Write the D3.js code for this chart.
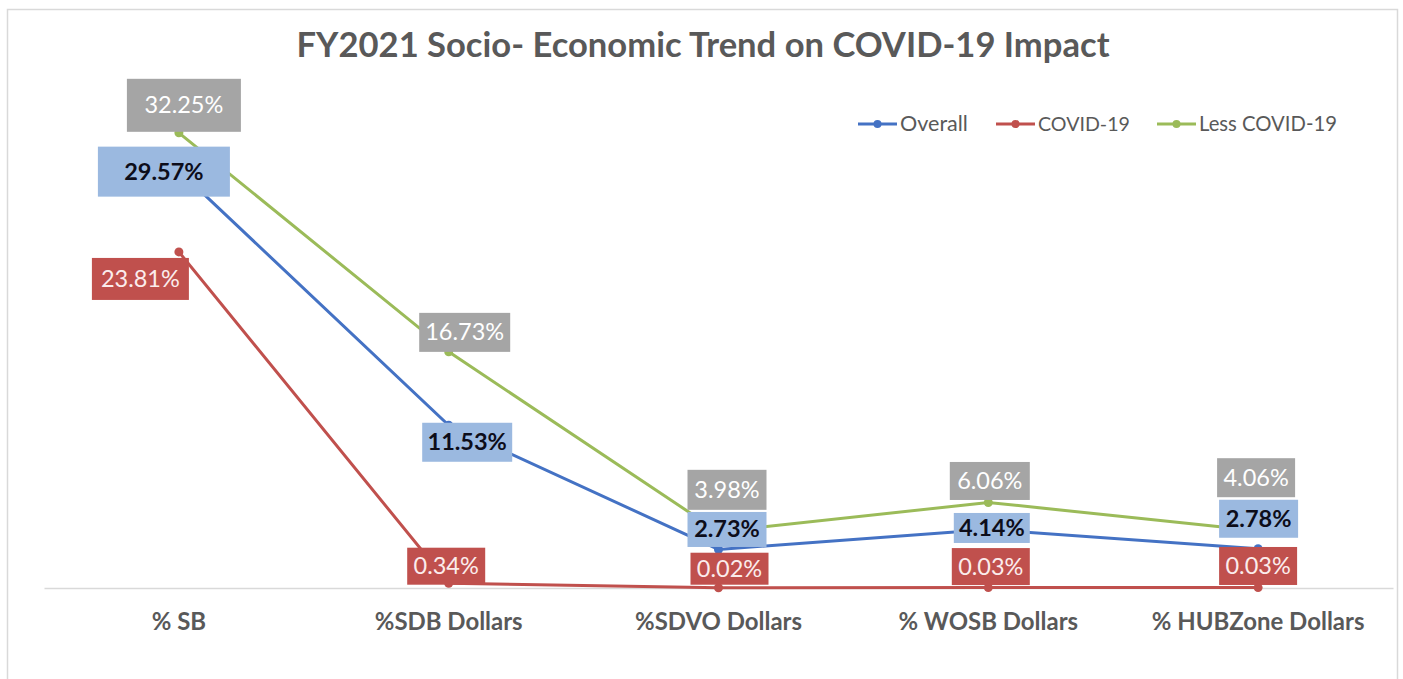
<!DOCTYPE html>
<html>
<head>
<meta charset="utf-8">
<script src="https://cdn.jsdelivr.net/npm/d3@7"></script>
<style>
	body { margin: 0; background: #fff; }
	svg text { font-family: Lato, "Open Sans", sans-serif; }
</style>
</head>
<body>
<div id="chart"></div>
<script>
// FY2021 socio-economic trend chart, drawn with d3

var categories = ["% SB", "%SDB Dollars", "%SDVO Dollars", "% WOSB Dollars", "% HUBZone Dollars"];
var overall = [29.57, 11.53, 2.73, 4.14, 2.78];
var covid = [23.81, 0.34, 0.02, 0.03, 0.03];
var lessCovid = [32.25, 16.73, 3.98, 6.06, 4.06];
var seriesNames = ["Overall", "COVID-19", "Less COVID-19"];

var W = 1403, H = 679;
var colors = { line: ["#4472c4", "#c0504d", "#9bbb59"], box: ["#9bb9e0", "#c0504d", "#a5a5a5"], text: ["#0d0d1a", "#fbecec", "#ffffff"] };

// hand-placed label boxes, like the ones moved around in the original: [dx, dy, w, h] from the point
var labelLayout = [
	[[-15, 1, 132, 50], [18.5, 17, 90, 39], [8.5, -20, 79, 35], [3.5, -1.6, 76, 30], [0.5, -30, 79, 38]],
	[[-38.5, 27, 97, 42], [-2.5, -17, 78, 37], [11, -19, 78, 32], [2.5, -21, 78, 37], [0, -21.6, 78, 38]],
	[[5, -27.5, 114, 53], [16, -19.5, 91, 39], [8.5, -42, 79, 40], [1.5, -21.5, 80, 38], [-2, -53, 78, 39]]
];

var svg = d3.select("#chart").append("svg")
	.attr("width", W)
	.attr("height", H);

svg.append("rect")
	.attr("x", 7.5).attr("y", 9.5)
	.attr("width", 1390).attr("height", 680)
	.attr("fill", "#fff")
	.attr("stroke", "#d9d9d9")
	.attr("stroke-width", 1.5);

var x = d3.scaleBand().domain(categories).range([44, 1393]);
var y = d3.scaleLinear().domain([0, 35]).range([588, 94]);

function fitText(sel, width) {
	// scale the font so the rendered string takes the width seen in the picture
	var size = parseFloat(sel.attr("font-size"));
	var len = sel.node().getComputedTextLength();
	var fitted = size * width / len;
	sel.attr("font-size", fitted.toFixed(2));
	return fitted;
}

var title = svg.append("text")
	.attr("x", 703).attr("y", 57)
	.attr("text-anchor", "middle")
	.attr("font-size", 32)
	.attr("font-weight", "bold")
	.attr("fill", "#595959")
	.text("FY2021 Socio- Economic Trend on COVID-19 Impact");
fitText(title, 813);

// x axis
var axis = svg.append("g")
	.attr("transform", "translate(0," + y(0) + ")")
	.call(d3.axisBottom(x).tickSize(0).tickSizeOuter(0));
axis.select(".domain").attr("stroke", "#d9d9d9").attr("stroke-width", 1.5);
var tickText = axis.selectAll(".tick text")
	.attr("y", 42).attr("dy", 0)
	.attr("font-size", 20)
	.attr("font-weight", "bold")
	.attr("fill", "#595959");
// one size for all tick labels, taken from the widest readable one
var tickSize = fitText(tickText.filter(function(d) { return d === "%SDVO Dollars"; }), 167);
tickText.attr("font-size", tickSize.toFixed(2));

var allSeries = [overall, covid, lessCovid];
var line = d3.line()
	.x(function(d, i) { return x(categories[i]) + x.bandwidth() / 2; })
	.y(function(d) { return y(d); });

allSeries.forEach(function(values, s) {
	svg.append("path")
		.attr("d", line(values))
		.attr("fill", "none")
		.attr("stroke", colors.line[s])
		.attr("stroke-width", 3);
	svg.selectAll("circle.s" + s).data(values).enter().append("circle")
		.attr("class", "s" + s)
		.attr("cx", function(d, i) { return x(categories[i]) + x.bandwidth() / 2; })
		.attr("cy", function(d) { return y(d); })
		.attr("r", 4.5)
		.attr("fill", colors.line[s]);
});

// data labels on top of every line
allSeries.forEach(function(values, s) {
	values.forEach(function(v, i) {
		var lay = labelLayout[s][i];
		var cx = x(categories[i]) + x.bandwidth() / 2 + lay[0];
		var cy = y(v) + lay[1];
		svg.append("rect")
			.attr("x", cx - lay[2] / 2).attr("y", cy - lay[3] / 2)
			.attr("width", lay[2]).attr("height", lay[3])
			.attr("fill", colors.box[s]);
		svg.append("text")
			.attr("x", cx).attr("y", cy + 8)
			.attr("text-anchor", "middle")
			.attr("font-size", 23.5)
			.attr("font-weight", s === 0 ? "bold" : "normal")
			.attr("fill", colors.text[s])
			.text(v.toFixed(2) + "%");
	});
});

// legend
var legendX = [858, 996, 1157];
var legendW = [68, 92, 138];
seriesNames.forEach(function(name, s) {
	var g = svg.append("g").attr("transform", "translate(" + legendX[s] + ",124)");
	g.append("line").attr("x1", 0).attr("x2", 39)
		.attr("stroke", colors.line[s]).attr("stroke-width", 3);
	g.append("circle").attr("cx", 19.5).attr("r", 4).attr("fill", colors.line[s]);
	var t = g.append("text").attr("x", 42).attr("y", 6.5)
		.attr("font-size", 19)
		.attr("fill", "#595959")
		.text(name);
	fitText(t, legendW[s]);
});
</script>
</body>
</html>
